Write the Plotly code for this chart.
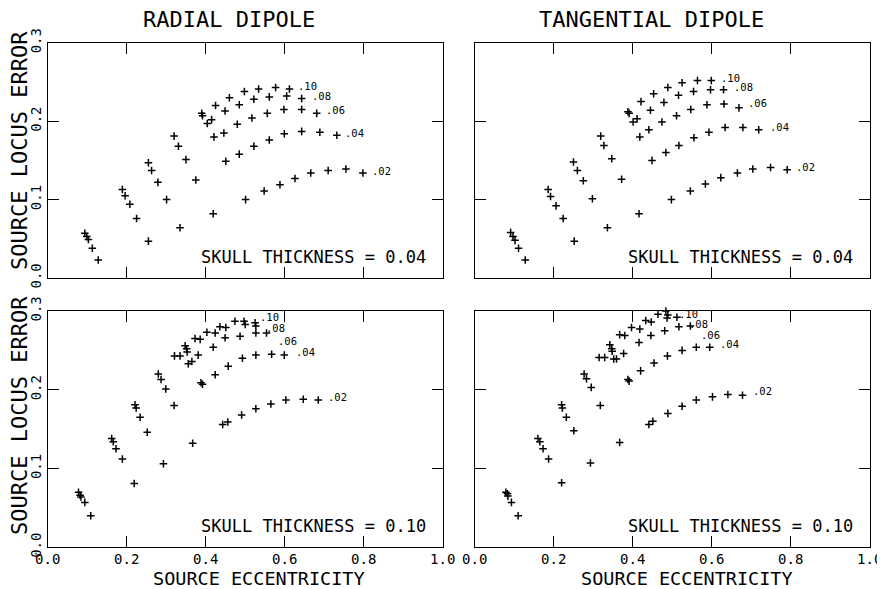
import plotly.graph_objects as go

# ---------------- data ----------------
curve_labels = [".10", ".08", ".06", ".04", ".02"]
x_tick_vals = [0.0, 0.2, 0.4, 0.6, 0.8, 1.0]
x_tick_text = ["0.0", "0.2", "0.4", "0.6", "0.8", "1.0"]
y_tick_vals = [0.0, 0.1, 0.2, 0.3]
y_tick_text = ["0.0", "0.1", "0.2", "0.3"]
panel_titles = ["RADIAL DIPOLE", "TANGENTIAL DIPOLE"]
skull_thickness = ["0.04", "0.04", "0.10", "0.10"]

# Radial dipole, skull thickness 0.04 (one row per curve .10 ... .02)
rad04_x = [
    [0.094, 0.189, 0.255, 0.320, 0.390, 0.392, 0.425, 0.460, 0.498, 0.534, 0.577, 0.612],
    [0.099, 0.196, 0.263, 0.331, 0.404, 0.415, 0.449, 0.485, 0.522, 0.561, 0.605, 0.643],
    [0.103, 0.208, 0.279, 0.350, 0.421, 0.446, 0.480, 0.517, 0.556, 0.598, 0.643, 0.681],
    [0.113, 0.225, 0.301, 0.375, 0.451, 0.485, 0.522, 0.561, 0.599, 0.643, 0.689, 0.732],
    [0.128, 0.255, 0.335, 0.419, 0.501, 0.548, 0.588, 0.626, 0.666, 0.710, 0.755, 0.798],
]
rad04_y = [
    [0.057, 0.113, 0.147, 0.181, 0.210, 0.207, 0.220, 0.230, 0.238, 0.241, 0.243, 0.241],
    [0.053, 0.105, 0.137, 0.168, 0.197, 0.202, 0.213, 0.221, 0.228, 0.231, 0.232, 0.229],
    [0.049, 0.094, 0.122, 0.151, 0.180, 0.185, 0.196, 0.204, 0.210, 0.215, 0.215, 0.210],
    [0.038, 0.076, 0.100, 0.125, 0.149, 0.158, 0.168, 0.176, 0.184, 0.187, 0.186, 0.182],
    [0.023, 0.047, 0.064, 0.082, 0.100, 0.111, 0.119, 0.127, 0.134, 0.137, 0.139, 0.134],
]

# Tangential dipole, skull thickness 0.04
tan04_x = [
    [0.091, 0.186, 0.250, 0.319, 0.388, 0.391, 0.421, 0.453, 0.489, 0.525, 0.564, 0.599],
    [0.097, 0.192, 0.260, 0.327, 0.401, 0.411, 0.445, 0.479, 0.516, 0.554, 0.597, 0.630],
    [0.102, 0.206, 0.275, 0.347, 0.418, 0.441, 0.474, 0.511, 0.547, 0.588, 0.631, 0.669],
    [0.111, 0.224, 0.298, 0.372, 0.449, 0.484, 0.517, 0.555, 0.593, 0.634, 0.679, 0.719],
    [0.128, 0.252, 0.336, 0.416, 0.498, 0.546, 0.584, 0.623, 0.665, 0.704, 0.749, 0.791],
]
tan04_y = [
    [0.058, 0.113, 0.148, 0.181, 0.212, 0.210, 0.225, 0.235, 0.243, 0.249, 0.252, 0.252],
    [0.053, 0.104, 0.137, 0.169, 0.199, 0.203, 0.214, 0.224, 0.233, 0.238, 0.240, 0.240],
    [0.048, 0.092, 0.124, 0.152, 0.180, 0.189, 0.199, 0.207, 0.215, 0.221, 0.222, 0.217],
    [0.038, 0.076, 0.101, 0.126, 0.150, 0.160, 0.169, 0.179, 0.186, 0.192, 0.192, 0.189],
    [0.023, 0.047, 0.064, 0.082, 0.100, 0.111, 0.120, 0.128, 0.134, 0.139, 0.141, 0.138],
]

# Radial dipole, skull thickness 0.10
rad10_x = [
    [0.078, 0.162, 0.221, 0.280, 0.321, 0.348, 0.373, 0.403, 0.436, 0.474, 0.497, 0.525],
    [0.082, 0.166, 0.224, 0.287, 0.335, 0.352, 0.353, 0.386, 0.424, 0.451, 0.500, 0.527],
    [0.084, 0.173, 0.234, 0.299, 0.356, 0.365, 0.381, 0.419, 0.449, 0.487, 0.527, 0.554],
    [0.094, 0.189, 0.252, 0.320, 0.388, 0.392, 0.424, 0.457, 0.493, 0.527, 0.567, 0.599],
    [0.109, 0.219, 0.293, 0.367, 0.443, 0.456, 0.491, 0.527, 0.565, 0.603, 0.647, 0.685],
]
rad10_y = [
    [0.070, 0.138, 0.181, 0.220, 0.243, 0.256, 0.265, 0.273, 0.280, 0.287, 0.287, 0.285],
    [0.066, 0.134, 0.177, 0.213, 0.243, 0.252, 0.248, 0.264, 0.272, 0.279, 0.283, 0.281],
    [0.064, 0.125, 0.165, 0.201, 0.233, 0.236, 0.244, 0.254, 0.266, 0.268, 0.272, 0.272],
    [0.057, 0.112, 0.146, 0.180, 0.209, 0.207, 0.219, 0.230, 0.240, 0.244, 0.245, 0.244],
    [0.040, 0.081, 0.106, 0.132, 0.156, 0.159, 0.168, 0.176, 0.182, 0.187, 0.188, 0.187],
]

# Tangential dipole, skull thickness 0.10
tan10_x = [
    [0.079, 0.160, 0.220, 0.277, 0.315, 0.342, 0.367, 0.397, 0.433, 0.464, 0.484, 0.489],
    [0.083, 0.165, 0.222, 0.283, 0.329, 0.347, 0.348, 0.380, 0.418, 0.447, 0.487, 0.512],
    [0.084, 0.173, 0.232, 0.295, 0.352, 0.359, 0.377, 0.416, 0.446, 0.481, 0.517, 0.546],
    [0.093, 0.187, 0.251, 0.318, 0.388, 0.391, 0.420, 0.454, 0.488, 0.525, 0.561, 0.595],
    [0.110, 0.220, 0.293, 0.367, 0.441, 0.451, 0.489, 0.525, 0.561, 0.602, 0.641, 0.678],
]
tan10_y = [
    [0.070, 0.138, 0.181, 0.220, 0.241, 0.257, 0.270, 0.279, 0.288, 0.296, 0.300, 0.295],
    [0.068, 0.134, 0.177, 0.214, 0.241, 0.252, 0.249, 0.269, 0.277, 0.286, 0.291, 0.292],
    [0.065, 0.125, 0.165, 0.203, 0.239, 0.239, 0.246, 0.260, 0.269, 0.275, 0.280, 0.281],
    [0.057, 0.112, 0.148, 0.180, 0.213, 0.211, 0.224, 0.234, 0.243, 0.250, 0.254, 0.254],
    [0.040, 0.082, 0.107, 0.133, 0.156, 0.160, 0.170, 0.179, 0.187, 0.191, 0.194, 0.193],
]

# ---------------- layout / style ----------------
PAGE_W, PAGE_H = 885, 589
OFF = 8                      # default page body margin around the figure
W, H = PAGE_W - OFF, PAGE_H - OFF
FONT = "DejaVu Sans Mono"
INK = "black"


def fx(px):
    return (px - OFF) / W


def fy(py):
    return 1 - (py - OFF) / H


panels = [
    dict(xs=rad04_x, ys=rad04_y, xd=(47.7, 442.7), yd=(42.8, 278.0), xlab=False, ylab=True,
         offs=[(7, 3), (8, 2), (7, 3), (6, 2), (7, 2)]),
    dict(xs=tan04_x, ys=tan04_y, xd=(474.7, 869.7), yd=(42.8, 278.0), xlab=False, ylab=False,
         offs=[(8, 2), (8, 3), (7, 5), (9, 3), (7, 3)]),
    dict(xs=rad10_x, ys=rad10_y, xd=(47.7, 442.7), yd=(311.0, 547.3), xlab=True, ylab=True,
         offs=[(3, 6), (8, -2), (9, -8), (10, 3), (8, 3)]),
    dict(xs=tan10_x, ys=tan10_y, xd=(474.7, 869.7), yd=(311.0, 547.3), xlab=True, ylab=False,
         offs=[(9, 1), (10, -7), (9, -9), (8, 3), (8, 4)]),
]

fig = go.Figure()
annotations = []
layout_axes = {}

for i, p in enumerate(panels):
    sfx = "" if i == 0 else str(i + 1)
    xa, ya = "x" + sfx, "y" + sfx
    for k, lab in enumerate(curve_labels):
        fig.add_trace(go.Scatter(
            x=p["xs"][k], y=p["ys"][k], xaxis=xa, yaxis=ya, mode="markers",
            name=lab, showlegend=False, cliponaxis=False,
            marker=dict(symbol="cross-thin", size=5.4, color=INK,
                        line=dict(width=1.5, color=INK)),
        ))
        dx, dy = p["offs"][k]
        annotations.append(dict(
            x=p["xs"][k][-1], y=p["ys"][k][-1], xref=xa, yref=ya, text=lab,
            showarrow=False, xanchor="left", yanchor="middle", xshift=dx, yshift=dy,
            font=dict(family=FONT, size=10.5, color=INK),
        ))
    annotations.append(dict(
        x=1.0, y=0.0, xref=xa, yref=ya, text="SKULL THICKNESS = " + skull_thickness[i],
        showarrow=False, xanchor="right", yanchor="middle", xshift=-15, yshift=21,
        font=dict(family=FONT, size=17, color=INK),
    ))
    axis_common = dict(showline=True, mirror="ticks", linecolor=INK, linewidth=1.3,
                       ticks="inside", ticklen=11, tickwidth=1.3, tickcolor=INK,
                       showgrid=False, zeroline=False, fixedrange=True, automargin=False,
                       tickfont=dict(family=FONT, size=14, color=INK))
    layout_axes["xaxis" + sfx] = dict(
        axis_common, domain=[fx(p["xd"][0]), fx(p["xd"][1])], range=[0, 1], anchor=ya,
        tickmode="array", tickvals=x_tick_vals, ticktext=x_tick_text,
        showticklabels=p["xlab"], ticklabelstandoff=-1)
    layout_axes["yaxis" + sfx] = dict(
        axis_common, domain=[fy(p["yd"][1]), fy(p["yd"][0])], range=[0, 0.3], anchor=xa,
        tickmode="array", tickvals=y_tick_vals, ticktext=y_tick_text,
        tickangle=-90, showticklabels=p["ylab"], ticklabelstandoff=0)

# panel titles
for txt, cx in zip(panel_titles, [229, 651]):
    annotations.append(dict(x=fx(cx), y=fy(19), xref="paper", yref="paper", text=txt,
                            showarrow=False, xanchor="center", yanchor="middle",
                            font=dict(family=FONT, size=22, color=INK)))
# y-axis titles
for cy in [151, 416]:
    annotations.append(dict(x=fx(19), y=fy(cy), xref="paper", yref="paper",
                            text="SOURCE LOCUS ERROR", textangle=-90, showarrow=False,
                            xanchor="center", yanchor="middle",
                            font=dict(family=FONT, size=22, color=INK)))
# x-axis titles
for cx in [259, 687]:
    annotations.append(dict(x=fx(cx), y=fy(578.2), xref="paper", yref="paper",
                            text="SOURCE ECCENTRICITY", showarrow=False,
                            xanchor="center", yanchor="middle",
                            font=dict(family=FONT, size=18.5, color=INK)))

fig.update_layout(
    width=W, height=H, margin=dict(l=0, r=0, t=0, b=0, autoexpand=False),
    paper_bgcolor="white", plot_bgcolor="white",
    annotations=annotations, showlegend=False,
    **layout_axes,
)

fig.write_html("out.html")
